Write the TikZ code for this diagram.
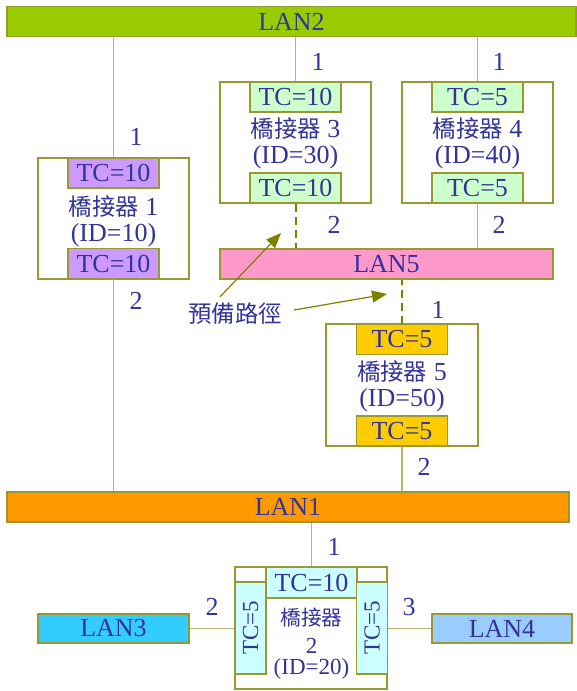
\documentclass[tikz,border=0pt]{standalone}
\usepackage{fontspec}
\setmainfont{Liberation Serif}
\newfontfamily\cjk[Scale=0.9]{Noto Sans CJK TC}
\usetikzlibrary{arrows.meta}
\definecolor{txtblue}{RGB}{51,51,153}
\definecolor{edgeol}{RGB}{153,153,51}
\definecolor{linkol}{RGB}{185,185,110}
\definecolor{arrowol}{RGB}{128,128,0}
\definecolor{lanA}{RGB}{255,153,0}
\definecolor{lanB}{RGB}{153,204,0}
\definecolor{lanC}{RGB}{51,204,255}
\definecolor{lanD}{RGB}{153,204,255}
\definecolor{lanE}{RGB}{255,153,204}
\definecolor{tcA}{RGB}{204,153,255}
\definecolor{tcB}{RGB}{204,255,204}
\definecolor{tcC}{RGB}{255,204,0}
\definecolor{tcD}{RGB}{204,255,255}
\tikzset{
  box/.style={draw=edgeol, line width=0.6pt, inner sep=0pt, text=txtblue,
    font=\fontsize{13}{15}\selectfont},
  lan/.style={box, minimum height=15pt},
  tc/.style={box, minimum width=45.5pt, minimum height=15pt},
  bridge/.style={draw=edgeol, line width=0.6pt, fill=white, inner sep=0pt,
    minimum width=75.5pt, minimum height=60.5pt},
  label/.style={text=txtblue, inner sep=0pt, font=\fontsize{13}{15}\selectfont},
  small/.style={font=\fontsize{11.5}{13}\selectfont},
  link/.style={draw=linkol, line width=0.6pt},
  spare/.style={draw=arrowol, line width=1pt, dash pattern=on 4pt off 2.5pt},
  hint/.style={draw=arrowol, line width=0.6pt, -{Triangle[length=7.5pt,width=6pt]}}
}
\begin{document}
\begin{tikzpicture}[x=0.5pt,y=-0.5pt]
\useasboundingbox (0,0) rectangle (577,691);

% LANs
\node[lan, fill=lanB, minimum width=284.5pt] (lan2) at (291.5,21.5) {LAN2};
\node[lan, fill=lanE, minimum width=166.5pt] (lan5) at (386.5,264) {LAN5};
\node[lan, fill=lanA, minimum width=281pt] (lan1) at (288,507) {LAN1};
\node[lan, fill=lanC, minimum width=75.5pt, minimum height=14.5pt] (lan3) at (113.5,628.5) {LAN3};
\node[lan, fill=lanD, minimum width=70pt, minimum height=14.5pt] (lan4) at (502,628.5) {LAN4};

% bridge 1
\node[bridge] (br1) at (113.5,218.5) {};
\node[tc, fill=tcA] (br1a) at (113.5,173) {TC=10};
\node[tc, fill=tcA] (br1b) at (113.5,263.5) {TC=10};
\node[label] (br1n) at (113.5,207) {{\cjk 橋接器} 1};
\node[label] (br1i) at (113.5,235) {(ID=10)};

% bridge 3
\node[bridge] (br3) at (295.5,142.5) {};
\node[tc, fill=tcB] (br3a) at (295.5,97) {TC=10};
\node[tc, fill=tcB] (br3b) at (295.5,188) {TC=10};
\node[label] (br3n) at (295.5,129) {{\cjk 橋接器} 3};
\node[label] (br3i) at (295.5,157) {(ID=30)};

% bridge 4
\node[bridge] (br4) at (477.5,142.5) {};
\node[tc, fill=tcB] (br4a) at (477.5,97) {TC=5};
\node[tc, fill=tcB] (br4b) at (477.5,188) {TC=5};
\node[label] (br4n) at (477.5,129) {{\cjk 橋接器} 4};
\node[label] (br4i) at (477.5,157) {(ID=40)};

% bridge 5
\node[bridge, minimum width=76pt, minimum height=61pt] (br5) at (402,385) {};
\node[tc, fill=tcC] (br5a) at (402,339.5) {TC=5};
\node[tc, fill=tcC] (br5b) at (402,431) {TC=5};
\node[label] (br5n) at (402,372) {{\cjk 橋接器} 5};
\node[label] (br5i) at (402,400) {(ID=50)};

% bridge 2
\node[bridge, minimum width=76pt, minimum height=61pt] (br2) at (311,628) {};
\node[tc, fill=tcD, minimum height=15.5pt] (br2a) at (311.5,582.5) {TC=10};
\node[tc, small, fill=tcD, minimum width=46pt, minimum height=15.5pt, rotate=90] (br2b) at (250.5,628) {TC=5};
\node[tc, small, fill=tcD, minimum width=46pt, minimum height=15.5pt, rotate=90] (br2c) at (372,628) {TC=5};
\node[label, small] (br2n) at (311.5,618) {\cjk 橋接器};
\node[label, small] (br2m) at (311.5,646) {2};
\node[label, small] (br2i) at (311.5,669) {(ID=20)};

% connectors
\draw[link] (br1a.north) -- (br1a.north |- lan2.south);
\draw[link] (br1b.south) -- (br1b.south |- lan1.north);
\draw[link] (br3a.north) -- (br3a.north |- lan2.south);
\draw[link] (br4a.north) -- (br4a.north |- lan2.south);
\draw[spare] (br3b.south) -- (br3b.south |- lan5.north);
\draw[link] (br4b.south) -- (br4b.south |- lan5.north);
\draw[spare] (br5a.north) -- (br5a.north |- lan5.south);
\draw[link] (br5b.south) -- (br5b.south |- lan1.north);
\draw[link] (br2a.north) -- (br2a.north |- lan1.south);
\draw[link] (lan3.east) -- (lan3.east -| br2.west);
\draw[link] (lan4.west) -- (lan4.west -| br2.east);

% port numbers
\node[label] (p11) at (136,137) {1};
\node[label] (p12) at (136,301) {2};
\node[label] (p31) at (318,62) {1};
\node[label] (p32) at (334,225) {2};
\node[label] (p41) at (499,62) {1};
\node[label] (p42) at (499,225) {2};
\node[label] (p51) at (438,310) {1};
\node[label] (p52) at (424,467) {2};
\node[label] (p21) at (334,547) {1};
\node[label] (p22) at (212,607) {2};
\node[label] (p23) at (409,607) {3};

% backup path hint
\node[label, font=\fontsize{13}{15}\cjk] (hint) at (235,314) {預備路徑};
\coordinate (tip1) at (281,233);
\coordinate (tip2) at (387,294);
\draw[hint] (hint.north) ++(-15,-6) coordinate (h1) (h1) -- (tip1);
\draw[hint] (hint.east) ++(12,-4) coordinate (h2) (h2) -- (tip2);
\end{tikzpicture}
\end{document}
